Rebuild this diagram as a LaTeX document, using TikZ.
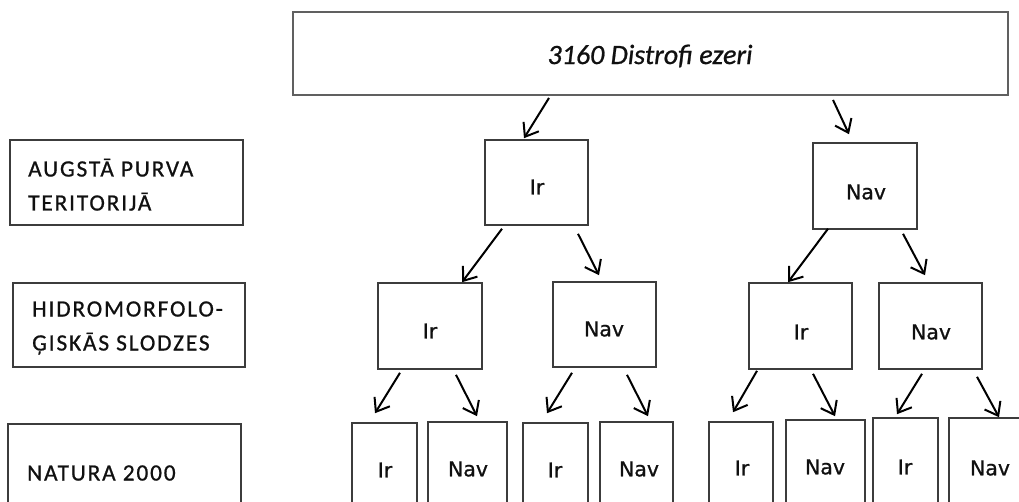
\documentclass[tikz,border=0pt]{standalone}
\usepackage{fontspec}
\usetikzlibrary{arrows.meta}
\newfontfamily\titlefont[FakeBold=0.8]{Carlito}
\newfontfamily\rowfont[LetterSpace=8,FakeBold=0.8]{Carlito}
\newfontfamily\cellfont[FakeBold=0.8]{DejaVu Sans}
\definecolor{edge}{HTML}{3C3C3C}
\definecolor{ink}{HTML}{101010}

\tikzset{
  box/.style={draw=edge, line width=1.6pt, inner sep=0pt, minimum width=#1},
  cell/.style={inner sep=0pt, text=ink, font=\cellfont\fontsize{20.5}{22}\selectfont},
  rowtext/.style={inner sep=0pt, text=ink, align=left, anchor=base west,
    font=\rowfont\fontsize{23.3}{34}\selectfont},
  arr/.style={draw=black, line width=2pt,
    -{Straight Barb[length=12pt,width=18pt,line width=2pt]}},
}

\begin{document}
\begin{tikzpicture}[x=1pt,y=-1pt]
\useasboundingbox (0,0) rectangle (1019,502);
\clip (0,0) rectangle (1019,502);
\fill[white] (0,0) rectangle (1019,502);

% row headings on the left (base anchor sits on the last line)
\node[box=233pt, minimum height=85pt] (hA) at (126.5,182.5) {};
\node[rowtext] (tA) at (28,210.5) {AUGSTĀ PURVA\\TERITORIJĀ};
\node[box=232pt, minimum height=84pt] (hH) at (129,325) {};
\node[rowtext] (tH) at (32,350.5) {HIDROMORFOLO-\\ĢISKĀS SLODZES};
\node[box=233pt, minimum height=120pt] (hN) at (124.5,484) {};
\node[rowtext] (tN) at (27,480.5) {NATURA 2000};

% habitat type at the top
\node[draw=gray!75!black, line width=1.9pt, inner sep=0pt,
      minimum width=715pt, minimum height=83pt] (top) at (650.5,53.5) {};
\node[inner sep=0pt, text=ink, font=\titlefont\itshape\fontsize{28}{30}\selectfont]
  (title) at (650,56) {3160 Distrofi ezeri};

% first level
\node[box=103pt, minimum height=85pt] (a) at (536.5,182.5) {};
\node[cell] (ta) at (537,187) {Ir};
\node[box=104pt, minimum height=86pt] (b) at (865,186) {};
\node[cell] (tb) at (866,192) {Nav};

% second level
\node[box=104pt, minimum height=86pt] (aa) at (430,326) {};
\node[cell] (taa) at (430,331) {Ir};
\node[box=103pt, minimum height=85pt] (ab) at (604.5,324.5) {};
\node[cell] (tab) at (604,329) {Nav};
\node[box=103pt, minimum height=86pt] (ba) at (800.5,326) {};
\node[cell] (tba) at (801,332) {Ir};
\node[box=103pt, minimum height=86pt] (bb) at (930.5,326) {};
\node[cell] (tbb) at (931,332) {Nav};

% third level (running past the lower edge)
\node[box=65pt, minimum height=120pt] (c1) at (384.5,483) {};
\node[cell] (tc1) at (385,470) {Ir};
\node[box=79pt, minimum height=120pt] (c2) at (467.5,482) {};
\node[cell] (tc2) at (468,469) {Nav};
\node[box=65pt, minimum height=120pt] (c3) at (555.5,483) {};
\node[cell] (tc3) at (555,470) {Ir};
\node[box=73pt, minimum height=120pt] (c4) at (636.5,482) {};
\node[cell] (tc4) at (639,469) {Nav};
\node[box=64pt, minimum height=120pt] (c5) at (741,482) {};
\node[cell] (tc5) at (742,468) {Ir};
\node[box=79pt, minimum height=120pt] (c6) at (825.5,480) {};
\node[cell] (tc6) at (825,467) {Nav};
\node[box=65pt, minimum height=120pt] (c7) at (905.5,478) {};
\node[cell] (tc7) at (905,467) {Ir};
\node[box=80pt, minimum height=120pt] (c8) at (989,478) {};
\node[cell] (tc8) at (990,468) {Nav};

% connectors
\draw[arr] ([xshift=-101.5pt,yshift=-2pt]top.south) -- ([xshift=-12.5pt,yshift=1pt]a.north);
\draw[arr] ([xshift=182.5pt,yshift=-4pt]top.south) -- ([xshift=-16pt,yshift=8pt]b.north);

\draw[arr] ([xshift=-34.5pt,yshift=-3pt]a.south) -- ([xshift=32pt,yshift=0pt]aa.north);
\draw[arr] ([xshift=41.5pt,yshift=-8pt]a.south) -- ([xshift=-5.5pt,yshift=6pt]ab.north);
\draw[arr] ([xshift=-37pt,yshift=1pt]b.south) -- ([xshift=-12.5pt,yshift=0pt]ba.north);
\draw[arr] ([xshift=38pt,yshift=-4pt]b.south) -- ([xshift=-5.5pt,yshift=7pt]bb.north);

\draw[arr] ([xshift=-30pt,yshift=-3pt]aa.south) -- ([xshift=-9.5pt,yshift=9pt]c1.north);
\draw[arr] ([xshift=26pt,yshift=-5pt]aa.south) -- ([xshift=9.5pt,yshift=5pt]c2.north);
\draw[arr] ([xshift=-32.5pt,yshift=-5pt]ab.south) -- ([xshift=-8.5pt,yshift=9pt]c3.north);
\draw[arr] ([xshift=22.5pt,yshift=-7pt]ab.south) -- ([xshift=11.5pt,yshift=5pt]c4.north);
\draw[arr] ([xshift=-43.5pt,yshift=-1pt]ba.south) -- ([xshift=-8pt,yshift=9pt]c5.north);
\draw[arr] ([xshift=12.5pt,yshift=-4pt]ba.south) -- ([xshift=9.5pt,yshift=3pt]c6.north);
\draw[arr] ([xshift=-8.5pt,yshift=-4pt]bb.south) -- ([xshift=-8.5pt,yshift=3pt]c7.north);
\draw[arr] ([xshift=46.5pt,yshift=-7pt]bb.south) -- ([xshift=10pt,yshift=0pt]c8.north);
\end{tikzpicture}
\end{document}
